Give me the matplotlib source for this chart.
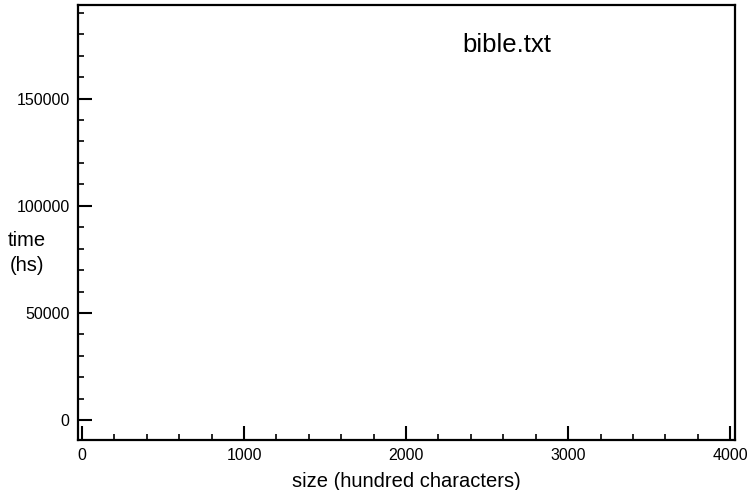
import matplotlib
matplotlib.use("Agg")
import matplotlib.pyplot as plt
from matplotlib.ticker import MultipleLocator

plt.rcParams['font.family'] = ['Liberation Sans', 'DejaVu Sans']

# chart data (no series drawn in the reference, only the axes)
size_values = []
time_values = []
x_ticks = [0, 1000, 2000, 3000, 4000]
y_ticks = [0, 50000, 100000, 150000]
title_text = "bible.txt"

fig = plt.figure(figsize=(7.51, 4.90), dpi=100)
ax = fig.add_axes([78 / 751, 50 / 490, (735 - 78) / 751, (440 - 5) / 490])

ax.plot(size_values, time_values, color='black')

ax.set_xlim(-25, 4030)
ax.set_ylim(-9300, 193700)
ax.set_xticks(x_ticks)
ax.set_yticks(y_ticks)
ax.xaxis.set_minor_locator(MultipleLocator(200))
ax.yaxis.set_minor_locator(MultipleLocator(10000))

ax.tick_params(which='both', direction='in', top=False, right=False,
               labelsize=11.5, width=1.5, pad=6)
ax.tick_params(which='major', length=10)
ax.tick_params(which='minor', length=4.5, width=1.2)
for sp in ax.spines.values():
    sp.set_linewidth(1.6)

ax.set_xlabel("size (hundred characters)", fontsize=14.5, labelpad=6)
fig.text(27 / 751, 1 - 253 / 490, "time\n(hs)", fontsize=14.5,
         ha='center', va='center', linespacing=1.4)
ax.text(0.653, 0.908, title_text, transform=ax.transAxes, fontsize=18.5,
        ha='center', va='center')

fig.savefig("out.png", dpi=100)
